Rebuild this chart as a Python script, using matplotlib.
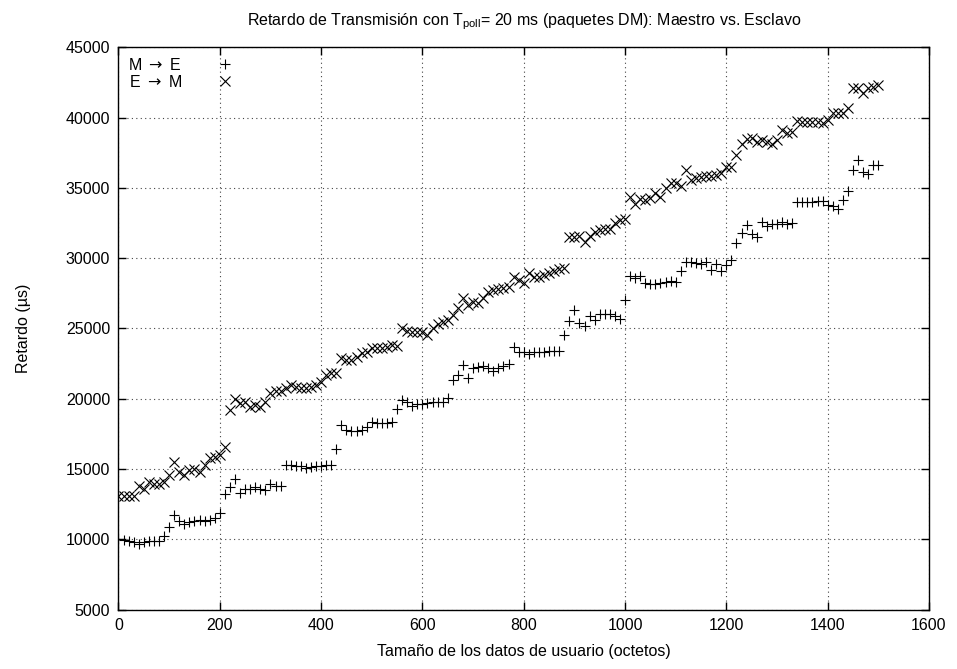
import numpy as np
import matplotlib
matplotlib.use("Agg")
import matplotlib.pyplot as plt
from matplotlib.font_manager import FontProperties

plt.rcParams['font.family'] = ['Liberation Sans', 'DejaVu Sans']
plt.rcParams['mathtext.fontset'] = 'custom'
plt.rcParams['mathtext.rm'] = 'Liberation Sans'
plt.rcParams['mathtext.it'] = 'Liberation Sans:italic'

# tamaño de los datos de usuario (octetos)
tam = np.arange(0, 1501, 10)

# retardo maestro -> esclavo (us)
m_e = [10000, 9950, 9900, 9800, 9700, 9800, 9900, 9900, 9850, 10200,
       10900, 11750, 11300, 11100, 11200, 11300, 11400, 11300, 11400, 11500,
       11900, 13200, 13700, 14300, 13300, 13600, 13600, 13700, 13600, 13500,
       13900, 13800, 13800, 15300, 15250, 15200, 15200, 15100, 15150, 15200,
       15200, 15250, 15300, 16450, 18100, 17800, 17700, 17700, 17800, 18000,
       18350, 18300, 18300, 18300, 18350, 19300, 19900, 19800, 19500, 19600,
       19600, 19700, 19800, 19800, 19800, 20050, 21300, 21700, 22400, 21450,
       22200, 22250, 22300, 22200, 22000, 22200, 22300, 22500, 23700, 23350,
       23300, 23200, 23300, 23300, 23300, 23400, 23400, 23400, 24500, 25500,
       26300, 25350, 25200, 25900, 25600, 26000, 26000, 26000, 25900, 25650,
       27050, 28700, 28600, 28700, 28200, 28150, 28150, 28200, 28300, 28400,
       28300, 29100, 29750, 29700, 29650, 29600, 29750, 29150, 29600, 29100,
       29500, 29850, 31050, 31800, 32350, 31750, 31500, 32600, 32250, 32400,
       32400, 32600, 32450, 32500, 34000, 34000, 34000, 34000, 34050, 34050,
       33800, 33700, 33500, 34100, 34750, 36300, 37000, 36100, 35950, 36600,
       36650]

# retardo esclavo -> maestro (us)
e_m = [13100, 13100, 13080, 13050, 13790, 13600, 14100, 13900, 13900, 14100,
       14570, 15520, 14800, 14570, 14900, 15020, 14800, 15250, 15760, 15880,
       16000, 16590, 19200, 19960, 19700, 19800, 19430, 19550, 19430, 19800,
       20420, 20560, 20560, 20740, 20980, 20860, 20740, 20740, 20860, 20980,
       21200, 21690, 21800, 21800, 22870, 22750, 22750, 22990, 23230, 23350,
       23585, 23585, 23585, 23700, 23820, 23750, 25050, 24820, 24770, 24770,
       24720, 24530, 25050, 25290, 25480, 25600, 25950, 26480, 27140, 26670,
       26900, 26790, 27140, 27610, 27730, 27780, 27850, 27920, 28680, 28440,
       28250, 28920, 28680, 28680, 28800, 28950, 29100, 29200, 29270, 31520,
       31520, 31570, 31170, 31570, 31880, 32000, 32100, 32100, 32470, 32700,
       32750, 34370, 33830, 34200, 34130, 34250, 34610, 34370, 34960, 35320,
       35320, 35140, 36260, 35550, 35670, 35790, 35850, 35850, 35910, 36030,
       36500, 36450, 37330, 38090, 38470, 38520, 38270, 38390, 38270, 38110,
       38390, 39110, 38920, 39000, 39760, 39690, 39700, 39700, 39700, 39620,
       39800, 40300, 40300, 40300, 40650, 42080, 42080, 41760, 42100, 42200,
       42310]

fig = plt.figure(figsize=(9.57, 6.69), dpi=100)
ax = fig.add_axes([0.1238, 0.0888, 0.8469, 0.8406])

ax.plot(tam, m_e, linestyle='none', marker='+', color='black',
        markersize=7.5, markeredgewidth=0.8, label=r'M $\rightarrow$ E')
ax.plot(tam, e_m, linestyle='none', marker='x', color='black',
        markersize=6.5, markeredgewidth=0.8, label=r'E $\rightarrow$ M')

ax.set_xlim(0, 1600)
ax.set_ylim(5000, 45000)
ax.set_xticks(np.arange(0, 1601, 200))
ax.set_yticks(np.arange(5000, 45001, 5000))
ax.grid(True, linestyle=(0, (1, 3)), color='#444444', linewidth=0.8)
ax.tick_params(direction='in', length=6, width=1, top=True, right=True,
               labelsize=11.5, pad=6)
for s in ax.spines.values():
    s.set_linewidth(1.0)

ax.set_title(r'Retardo de Transmisión con T$_{\mathrm{poll}}$= 20 ms (paquetes DM): Maestro vs. Esclavo',
             fontsize=11.5, pad=16)
ax.set_xlabel('Tamaño de los datos de usuario (octetos)', fontsize=11.5, labelpad=8)
ax.set_ylabel('Retardo (µs)', fontsize=11.5, labelpad=25)

# flechas de la leyenda con la fuente matemática de DejaVu
leg_font = FontProperties(family='Liberation Sans', size=11.5,
                          math_fontfamily='dejavusans')
leg = ax.legend(loc='upper left', frameon=False, markerfirst=False,
                prop=leg_font, handlelength=1.0, handletextpad=2.2,
                borderaxespad=0.2, labelspacing=0.05)

fig.savefig('out.png', dpi=100)
